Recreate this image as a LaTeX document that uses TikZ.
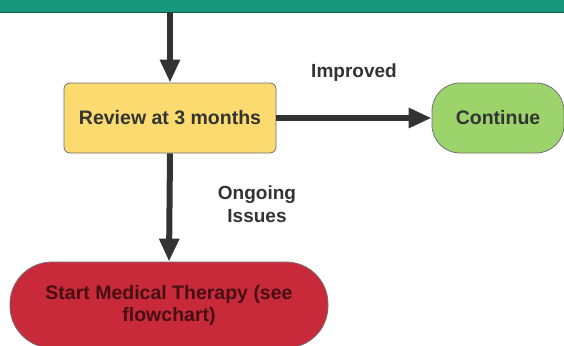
\documentclass[tikz,border=0pt]{standalone}
\usepackage{fontspec}
\setmainfont{Liberation Sans}
\usetikzlibrary{arrows.meta,positioning}
\definecolor{bannerc}{HTML}{17967B}
\definecolor{reviewc}{HTML}{FBDA6F}
\definecolor{contc}{HTML}{9CD46B}
\definecolor{therapyc}{HTML}{C82A3A}
\definecolor{inkc}{HTML}{333333}
\tikzset{box/.style={draw=inkc!70,line width=0.8pt,align=center,font=\bfseries\fontsize{19.5}{22}\selectfont,text=inkc},
  flow/.style={-{Triangle[width=19pt,length=23pt]},line width=6pt,draw=inkc},
  lbl/.style={font=\bfseries\fontsize{19}{23}\selectfont,text=inkc,align=center}}

\begin{document}
\begin{tikzpicture}[x=1pt,y=-1pt]
              \useasboundingbox (0,0) rectangle (564,345);
              \node[fill=bannerc,draw=bannerc!60!black,minimum width=566pt,minimum height=13pt,inner sep=0pt,anchor=south west] (banner) at (-1,12) {};
              \node[box,fill=reviewc,rounded corners=6pt,minimum width=212pt,minimum height=70pt] (review) at (170,118) {Review at 3 months};
              \node[box,fill=contc,rounded corners=28pt,minimum width=132pt,minimum height=70pt] (cont) at (498,118) {Continue};
              \node[box,fill=therapyc,rounded corners=42pt,minimum width=318pt,minimum height=86pt,text=therapyc!35!black] (therapy) at (169,305) {Start Medical Therapy (see\\flowchart)};

              \coordinate (bannerout) at (review.north |- banner.south);
              \draw[flow] (bannerout) -- (review.north);
              \draw[flow] (review.east) -- (cont.west);
              \draw[flow] (review.south) -- (therapy.north);

              \node[lbl] (improved) at (354,73) {Improved};
              \node[lbl] (ongoing) at (257,204) {Ongoing\\Issues};
            \end{tikzpicture}
\end{document}
